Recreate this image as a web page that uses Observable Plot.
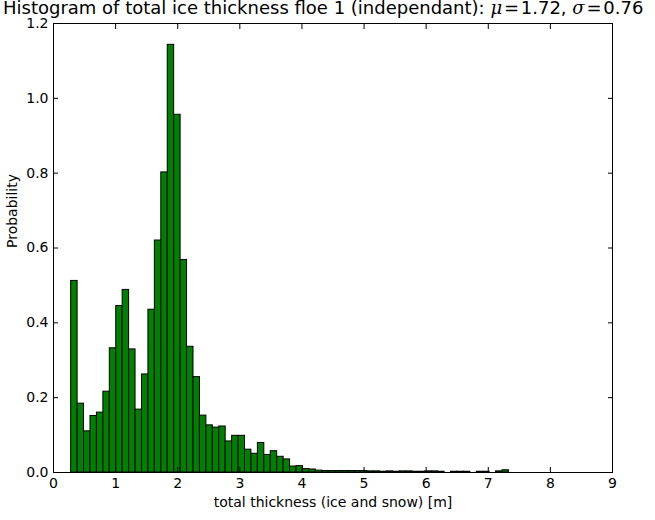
<!DOCTYPE html>
<html><head><meta charset="utf-8">
<script src="https://cdn.jsdelivr.net/npm/d3@7"></script>
<script src="https://cdn.jsdelivr.net/npm/@observablehq/plot@0.6"></script>
<style>body{margin:0;background:#fff} svg{display:block}</style>
</head><body><div id="chart"></div>
<script>
const binStart = 0.2845;
const binWidth = 0.10365;
const probability = [
  0.512, 0.184, 0.110, 0.151, 0.160, 0.216, 0.332, 0.445, 0.488, 0.329,
  0.168, 0.262, 0.435, 0.620, 0.802, 1.143, 0.956, 0.568, 0.336, 0.255,
  0.152, 0.126, 0.120, 0.123, 0.083, 0.098, 0.098, 0.061, 0.050, 0.079,
  0.047, 0.057, 0.042, 0.035, 0.016, 0.017, 0.009, 0.008, 0.005, 0.004,
  0.004, 0.004, 0.004, 0.004, 0.004, 0.004, 0.003, 0.003, 0.002, 0.003,
  0.002, 0.003, 0.003, 0.002, 0.002, 0.003, 0.003, 0.002, 0.000, 0.002,
  0.002, 0.002, 0.000, 0.002, 0.002, 0.000, 0.003, 0.006
];
const xTicks = [0, 1, 2, 3, 4, 5, 6, 7, 8, 9];
const yTicks = [0, 0.2, 0.4, 0.6, 0.8, 1.0, 1.2];
const titleMain = "Histogram of total ice thickness floe 1 (independant): ";
const muValue = "1.72";
const sigmaValue = "0.76";
const xLabel = "total thickness (ice and snow) [m]";
const yLabel = "Probability";

const bins = probability.map((p, i) => ({
  x1: binStart + i * binWidth,
  x2: binStart + (i + 1) * binWidth,
  y: p
}));

const font = "'DejaVu Sans', sans-serif";
const chart = Plot.plot({
  width: 655, height: 520,
  marginLeft: 53, marginRight: 43, marginTop: 23, marginBottom: 48,
  style: {fontFamily: font, fontSize: "14px", background: "white", color: "black", overflow: "visible"},
  x: {domain: [0, 9]},
  y: {domain: [0, 1.2]},
  marks: [
    Plot.rectY(bins, {x1: "x1", x2: "x2", y: "y", fill: "#008000", stroke: "black", strokeWidth: 1}),
    Plot.frame({stroke: "black", strokeWidth: 1}),
    Plot.axisX(xTicks, {anchor: "bottom", tickSize: -5, tickFormat: () => "", label: null}),
    Plot.axisX(xTicks, {anchor: "top", tickSize: -5, tickFormat: () => "", label: null}),
    Plot.axisY(yTicks, {anchor: "left", tickSize: -5, tickFormat: () => "", label: null}),
    Plot.axisY(yTicks, {anchor: "right", tickSize: -5, tickFormat: () => "", label: null}),
    Plot.axisX(xTicks, {anchor: "bottom", tickSize: 0, tickPadding: 6, tickFormat: d => String(d), label: null, fontSize: 14}),
    Plot.axisY(yTicks, {anchor: "left", tickSize: 0, tickPadding: 5, tickFormat: d => d.toFixed(1), label: null, fontSize: 14}),
    Plot.text([xLabel], {frameAnchor: "bottom", dy: 34, fontSize: 14, fill: "black"}),
    Plot.text([yLabel], {frameAnchor: "left", dx: -41, rotate: -90, fontSize: 14, fill: "black"})
  ]
});
document.getElementById("chart").appendChild(chart);

const svg = d3.select(chart);
const t = svg.append("text")
  .attr("x", 3).attr("y", 14)
  .attr("text-anchor", "start")
  .attr("font-family", font).attr("font-size", 18).attr("fill", "black");
t.append("tspan").text(titleMain);
t.append("tspan").attr("font-family", "'DejaVu Serif', serif").attr("font-style", "italic").text("μ");
t.append("tspan").text("\u200A=\u200A" + muValue + ", ");
t.append("tspan").attr("font-family", "'DejaVu Serif', serif").attr("font-style", "italic").text("σ");
t.append("tspan").text("\u200A=\u200A" + sigmaValue);
</script>
</body></html>
